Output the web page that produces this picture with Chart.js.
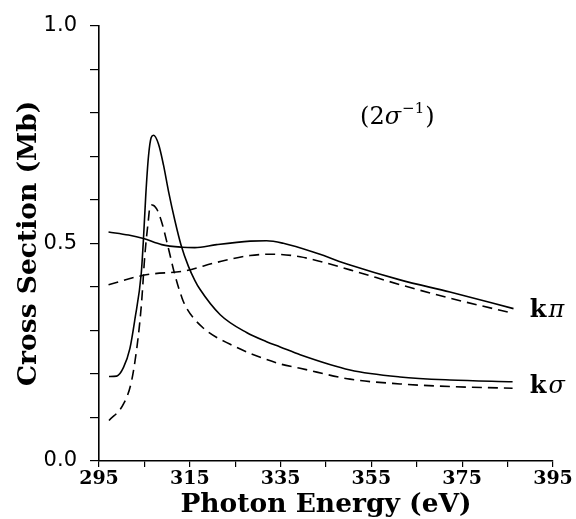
<!DOCTYPE html>
<html>
<head>
<meta charset="utf-8">
<script src="https://cdn.jsdelivr.net/npm/chart.js@4/dist/chart.umd.min.js"></script>
<style>
  html, body { margin: 0; padding: 0; background: #fff; }
  canvas { display: block; }
</style>
</head>
<body>
<canvas id="myChart" width="576" height="519"></canvas>
<script>
// k-sigma, solid (resonance) curve
var sigmaSolidE = [297.2, 298.9, 300.4, 301.8, 302.9, 304.3, 304.8, 305.3, 305.9, 306.5, 307.0, 308.1, 309.2, 310.3, 311.7, 313.1, 314.7, 316.1, 317.2, 321.7, 327.5, 331.9, 334.9, 339.3, 350.3, 361.3, 372.3, 386.1];
var sigmaSolid  = [0.194, 0.195, 0.215, 0.258, 0.325, 0.430, 0.511, 0.610, 0.700, 0.743, 0.748, 0.728, 0.680, 0.620, 0.553, 0.495, 0.447, 0.415, 0.395, 0.336, 0.295, 0.274, 0.262, 0.244, 0.209, 0.193, 0.186, 0.182];

// k-sigma, dashed curve
var sigmaDashE = [297.2, 300.4, 302.2, 303.7, 304.4, 305.1, 305.9, 306.2, 306.7, 307.7, 308.8, 310.3, 311.7, 313.3, 314.3, 317.9, 323.9, 334.9, 339.3, 350.3, 361.3, 372.3, 386.1];
var sigmaDash  = [0.093, 0.131, 0.185, 0.291, 0.367, 0.473, 0.556, 0.583, 0.588, 0.579, 0.549, 0.488, 0.428, 0.374, 0.351, 0.306, 0.268, 0.223, 0.213, 0.188, 0.177, 0.171, 0.167];

// k-pi, solid curve
var piSolidE = [297.1, 301.5, 304.8, 308.8, 313.2, 316.1, 320.9, 328.3, 331.9, 335.6, 343.0, 350.3, 361.3, 372.3, 386.3];
var piSolid  = [0.526, 0.519, 0.511, 0.497, 0.491, 0.490, 0.497, 0.505, 0.506, 0.500, 0.477, 0.450, 0.416, 0.388, 0.350];

// k-pi, dashed curve
var piDashE = [297.1, 303.7, 306.2, 313.6, 320.9, 328.3, 333.4, 339.3, 350.3, 361.3, 372.3, 386.3];
var piDash  = [0.405, 0.424, 0.429, 0.436, 0.456, 0.472, 0.475, 0.469, 0.439, 0.405, 0.374, 0.339];

var xTickLabels = [295, 315, 335, 355, 375, 395];
var yTickLabels = ["0.0", "0.5", "1.0"];

function toPoints(xs, ys) {
  var pts = [];
  for (var i = 0; i < xs.length; i++) pts.push({ x: xs[i], y: ys[i] });
  return pts;
}

function curve(xs, ys, dashed) {
  return {
    data: toPoints(xs, ys),
    showLine: true,
    borderColor: "#000",
    borderWidth: 1.6,
    borderDash: dashed ? [10, 6] : [],
    pointRadius: 0,
    cubicInterpolationMode: "monotone",
    fill: false
  };
}

// labels drawn next to the curves
var notes = {
  id: "notes",
  afterDatasetsDraw: function (chart) {
    var ctx = chart.ctx, x = chart.scales.x, y = chart.scales.y;
    ctx.save();
    ctx.fillStyle = "#000";
    ctx.textBaseline = "middle";
    ctx.textAlign = "left";

    // (2σ⁻¹)
    var px = x.getPixelForValue(352.5), py = y.getPixelForValue(0.788);
    ctx.font = '24px "DejaVu Serif"';
    ctx.fillText("(2", px, py);
    px += ctx.measureText("(2").width;
    ctx.font = 'italic 24px "DejaVu Serif"';
    ctx.fillText("σ", px, py);
    px += ctx.measureText("σ").width + 1;
    ctx.font = '15px "DejaVu Serif"';
    ctx.fillText("−1", px, py - 9);
    px += ctx.measureText("−1").width + 1;
    ctx.font = '24px "DejaVu Serif"';
    ctx.fillText(")", px, py);

    // kπ and kσ
    var rows = [["π", 0.344], ["σ", 0.170]];
    rows.forEach(function (r) {
      var lx = x.getPixelForValue(389.9), ly = y.getPixelForValue(r[1]);
      ctx.font = 'bold 24px "DejaVu Serif"';
      ctx.fillText("k", lx, ly);
      lx += ctx.measureText("k").width + 2;
      ctx.font = 'italic 24px "DejaVu Serif"';
      ctx.fillText(r[0], lx, ly);
    });
    ctx.restore();
  }
};

var ctx = document.getElementById("myChart");
var myChart = new Chart(ctx, {
  type: "scatter",
  data: {
    datasets: [
      curve(sigmaSolidE, sigmaSolid, false),
      curve(sigmaDashE, sigmaDash, true),
      curve(piSolidE, piSolid, false),
      curve(piDashE, piDash, true)
    ]
  },
  options: {
    responsive: false,
    animation: false,
    layout: { padding: { top: 22, right: 23, left: 0, bottom: 0 } },
    plugins: { legend: { display: false }, tooltip: { enabled: false } },
    scales: {
      x: {
        type: "linear",
        min: 295, max: 395,
        afterFit: function (s) { s.height = 58; },
        border: { display: true, color: "#000", width: 1.6 },
        grid: { drawOnChartArea: false, drawTicks: true, tickLength: 6, color: "#000", lineWidth: 1.2 },
        ticks: {
          stepSize: 10,
          autoSkip: false,
          maxRotation: 0,
          padding: 1,
          color: "#000",
          font: { family: "DejaVu Serif", size: 19, weight: "bold" },
          callback: function (v) { return xTickLabels.indexOf(v) >= 0 ? String(v) : ""; }
        },
        title: {
          display: true,
          text: "Photon Energy (eV)",
          color: "#000",
          font: { family: "DejaVu Serif", size: 26.5, weight: "bold", lineHeight: 1 },
          padding: { top: 0, bottom: 1 }
        }
      },
      y: {
        min: 0, max: 1,
        afterFit: function (s) { s.width = 99; },
        border: { display: true, color: "#000", width: 1.6 },
        grid: { drawOnChartArea: false, drawTicks: true, tickLength: 9, color: "#000", lineWidth: 1.2 },
        ticks: {
          stepSize: 0.1,
          autoSkip: false,
          padding: 13,
          color: "#000",
          font: { family: "DejaVu Sans", size: 21 },
          callback: function (v) {
            var k = Math.round(v * 10);
            return k % 5 === 0 ? yTickLabels[k / 5] : "";
          }
        },
        title: {
          display: true,
          text: "Cross Section (Mb)",
          color: "#000",
          font: { family: "DejaVu Serif", size: 26.5, weight: "bold", lineHeight: 1 },
          padding: { top: 16, bottom: 0 }
        }
      }
    }
  },
  plugins: [notes]
});
</script>
</body>
</html>
